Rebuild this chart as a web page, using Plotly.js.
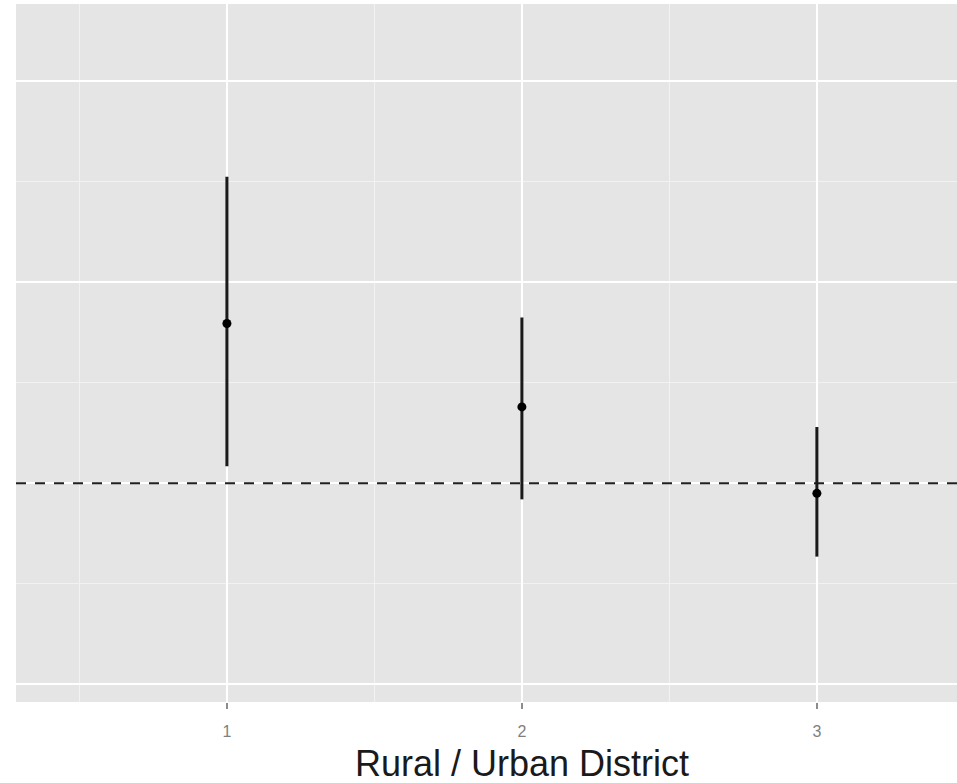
<!DOCTYPE html>
<html>
<head>
<meta charset="utf-8">
<script src="https://cdn.plot.ly/plotly-3.0.1.min.js"></script>
<style>
html,body{margin:0;padding:0;background:#ffffff;overflow:hidden;}
#chart{width:957px;height:783px;}
</style>
</head>
<body>
<div id="chart"></div>
<script>
// Data
const districts = [1, 2, 3];
const tickLabels = ["1", "2", "3"];
const estimate = [1.159, 1.076, 0.990];
const lower = [1.017, 0.984, 0.927];
const upper = [1.305, 1.165, 1.056];
const referenceLine = 1.0;
const xTitle = "Rural / Urban District";
const xRange = [0.285, 3.475];
const yRange = [0.7823, 1.477];

const errPlus = upper.map((u, i) => u - estimate[i]);
const errMinus = lower.map((l, i) => estimate[i] - l);

const refTrace = {
  type: "scatter",
  mode: "lines",
  x: xRange,
  y: [referenceLine, referenceLine],
  line: {color: "#1f1f1f", width: 2.2, dash: "10px,9px"},
  hoverinfo: "skip",
  showlegend: false
};

const trace = {
  type: "scatter",
  mode: "markers",
  x: districts,
  y: estimate,
  marker: {color: "#000000", size: 9, symbol: "circle"},
  error_y: {
    type: "data",
    symmetric: false,
    array: errPlus,
    arrayminus: errMinus,
    color: "#1a1a1a",
    thickness: 3,
    width: 0
  },
  hoverinfo: "x+y",
  showlegend: false
};

const layout = {
  width: 957,
  height: 783,
  margin: {l: 16, r: 0, t: 4, b: 81, pad: 0},
  paper_bgcolor: "#ffffff",
  plot_bgcolor: "#e5e5e5",
  font: {family: "Liberation Sans, Arial, sans-serif", color: "#7f7f7f"},
  xaxis: {
    range: xRange,
    tickmode: "array",
    tickvals: districts,
    ticktext: tickLabels,
    ticks: "outside",
    ticklen: 6,
    tickwidth: 1.5,
    tickcolor: "#8c8c8c",
    ticklabelstandoff: 9,
    tickfont: {size: 16, color: "#7f7f7f", family: "Liberation Sans, Arial, sans-serif"},
    showgrid: true,
    gridcolor: "#ffffff",
    gridwidth: 2.2,
    zeroline: false,
    showline: false,
    minor: {tickmode: "array", tickvals: [0.5, 1.5, 2.5], showgrid: true, gridcolor: "#f2f2f2", gridwidth: 1.3, ticks: ""}
  },
  yaxis: {
    range: yRange,
    tick0: 0.8,
    dtick: 0.2,
    showticklabels: false,
    ticks: "",
    showgrid: true,
    gridcolor: "#ffffff",
    gridwidth: 2.2,
    zeroline: false,
    showline: false,
    minor: {tick0: 0.9, dtick: 0.2, showgrid: true, gridcolor: "#f2f2f2", gridwidth: 1.3, ticks: ""}
  },
  annotations: [{
    text: xTitle,
    xref: "x", x: 2,
    yref: "paper", y: 0,
    yanchor: "top",
    yshift: -39,
    showarrow: false,
    font: {size: 36, color: "#1a1a1a", family: "Liberation Sans, Arial, sans-serif"}
  }]
};

Plotly.newPlot("chart", [refTrace, trace], layout, {displayModeBar: false, staticPlot: true});
</script>
</body>
</html>
